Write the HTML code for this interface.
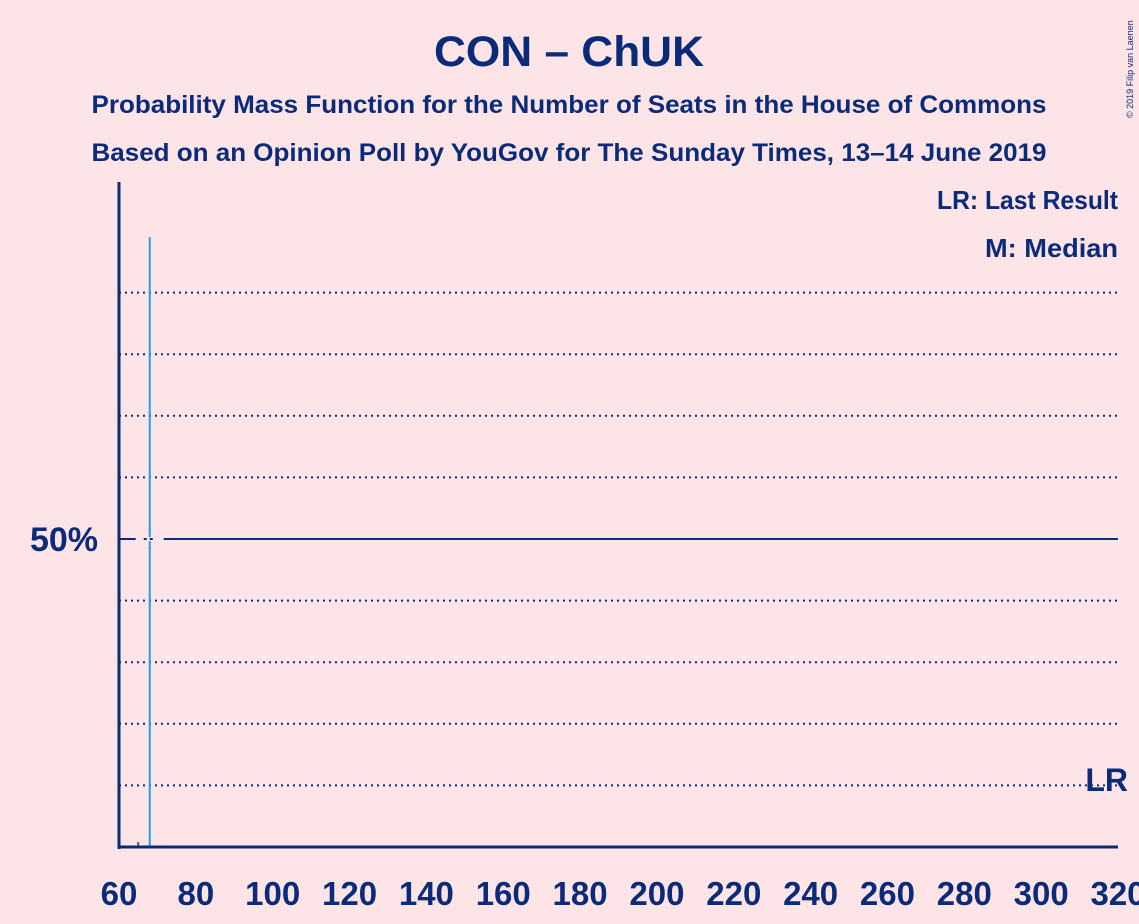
<!DOCTYPE html>
<html><head><meta charset="utf-8"><style>
body{margin:0;background:#fde4e7;}
svg{display:block;font-family:"Liberation Sans",sans-serif;}
</style></head><body>
<svg width="1139" height="924" viewBox="0 0 1139 924">
<rect width="1139" height="924" fill="#fde4e7"/>
<text x="569" y="66" text-anchor="middle" font-size="43" font-weight="bold" fill="#0a2a7a" textLength="270" lengthAdjust="spacingAndGlyphs">CON – ChUK</text>
<text x="569" y="113" text-anchor="middle" font-size="25" font-weight="bold" fill="#0a2a7a" textLength="955" lengthAdjust="spacingAndGlyphs">Probability Mass Function for the Number of Seats in the House of Commons</text>
<text x="569" y="161" text-anchor="middle" font-size="25" font-weight="bold" fill="#0a2a7a" textLength="955" lengthAdjust="spacingAndGlyphs">Based on an Opinion Poll by YouGov for The Sunday Times, 13–14 June 2019</text>
<text x="1133" y="118" font-size="9" fill="#0a2a7a" transform="rotate(-90 1133 118)">© 2019 Filip van Laenen</text>
<text x="1118" y="209" text-anchor="end" font-size="26" font-weight="bold" fill="#0a2a7a" textLength="181" lengthAdjust="spacingAndGlyphs">LR: Last Result</text>
<text x="1118" y="257" text-anchor="end" font-size="26" font-weight="bold" fill="#0a2a7a" textLength="133" lengthAdjust="spacingAndGlyphs">M: Median</text>
<g id="grid"></g>
<g id="bars"></g>
<g id="axes"></g>
</svg>
<script>
const seats=[65,68];
const probs=[0.8,99];
const xTicks=[60,80,100,120,140,160,180,200,220,240,260,280,300,320];
const gridVals=[10,20,30,40,60,70,80,90];
const medianSeat=68;
const NS="http://www.w3.org/2000/svg";
function x(v){return 119+(v-60)*(999/260);}
function y(p){return 847-p*6.16;}
function mk(t,a,parent){const e=document.createElementNS(NS,t);for(const k in a)e.setAttribute(k,a[k]);document.getElementById(parent).appendChild(e);return e;}
gridVals.forEach(g=>{
const l=mk('line',{x1:119,x2:1118,y1:y(g),y2:y(g),stroke:'#0a2a7a','stroke-width':2,'stroke-dasharray':'2,4'},'grid');


});
const ml=mk('line',{x1:119,x2:1118,y1:y(50),y2:y(50),stroke:'#0a2a7a','stroke-width':2},'grid');


seats.forEach((s,i)=>{
const big=probs[i]>5;
const r=mk('rect',{x:x(s)-1,y:y(probs[i]),width:2,height:847-y(probs[i]),fill:big?'#1aa3e8':'#555'},'bars');


});
const gap=mk('rect',{x:x(medianSeat)-14,y:y(50)-9,width:28,height:17,fill:'#fde4e7'},'bars');


const mv=mk('line',{x1:x(medianSeat),x2:x(medianSeat),y1:y(50)-10,y2:y(50)+10,stroke:'#1aa3e8','stroke-width':2,'stroke-dasharray':'8,4'},'bars');


const mh=mk('line',{x1:x(medianSeat)-6,x2:x(medianSeat)+6,y1:y(50),y2:y(50),stroke:'#0a2a7a','stroke-width':2,'stroke-dasharray':'3,3'},'bars');


const ya=mk('line',{x1:119,x2:119,y1:182,y2:849,stroke:'#0a2a7a','stroke-width':3},'axes');


const xa=mk('line',{x1:118,x2:1118,y1:847,y2:847,stroke:'#0a2a7a','stroke-width':3},'axes');


xTicks.forEach(t=>{
const e=mk('text',{x:x(t),y:905,'text-anchor':'middle','font-size':33,'font-weight':'bold',fill:'#0a2a7a'},'axes');
e.textContent=t;


});
const yl=mk('text',{x:98,y:551,'text-anchor':'end','font-size':34,'font-weight':'bold',fill:'#0a2a7a'},'axes');
yl.textContent='50%';


const lr=mk('text',{x:1128,y:791,'text-anchor':'end','font-size':32,'font-weight':'bold',fill:'#0a2a7a'},'axes');
lr.textContent='LR';


</script>
</body></html>
